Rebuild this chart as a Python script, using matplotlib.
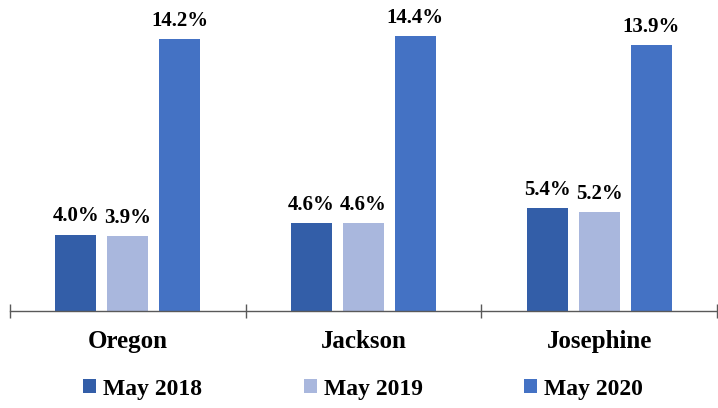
import matplotlib
matplotlib.use("Agg")
import matplotlib.pyplot as plt
import numpy as np

categories = ["Oregon", "Jackson", "Josephine"]
series_names = ["May 2018", "May 2019", "May 2020"]
may2018 = [4.0, 4.6, 5.4]
may2019 = [3.9, 4.6, 5.2]
may2020 = [14.2, 14.4, 13.9]
series = [may2018, may2019, may2020]
colors = ["#335EA8", "#A9B7DD", "#4472C4"]

plt.rcParams['font.family'] = ['Liberation Serif', 'DejaVu Serif']

fig = plt.figure(figsize=(7.18, 4.08), dpi=100)
ax = fig.add_axes([10/718, (408-311)/408, 707/718, 306/408])

x = np.arange(len(categories))
width = 0.174
offsets = [-0.22, 0.0, 0.22]
for vals, off, col, name in zip(series, offsets, colors, series_names):
    bars = ax.bar(x + off, vals, width, color=col, label=name, zorder=2)
    for b, v in zip(bars, vals):
        ax.text(b.get_x() + b.get_width()/2, v + 0.42, f"{v:.1f}%",
                ha='center', va='bottom', fontsize=15, fontweight='bold')

ax.set_xlim(-0.5, 2.5)
ax.set_ylim(0, 16)
for s in ['top', 'right', 'left']:
    ax.spines[s].set_visible(False)
ax.spines['bottom'].set_color('#595959')
ax.spines['bottom'].set_linewidth(1.0)
ax.set_yticks([])
ax.set_xticks([-0.5, 0.5, 1.5, 2.5])
ax.set_xticklabels([])
ax.tick_params(axis='x', direction='inout', length=10, color='#595959', width=1.0)
for xi, c in zip(x, categories):
    ax.text(xi, -1.0, c, ha='center', va='top', fontsize=18, fontweight='bold')

fig.legend(loc='center', bbox_to_anchor=(0.5 + 4/718, (408-389)/408), ncol=3,
           frameon=False, prop={'size': 17, 'weight': 'bold'},
           handlelength=0.55, handleheight=0.55, handletextpad=0.3, columnspacing=4.3)

fig.savefig("out.png", dpi=100)
